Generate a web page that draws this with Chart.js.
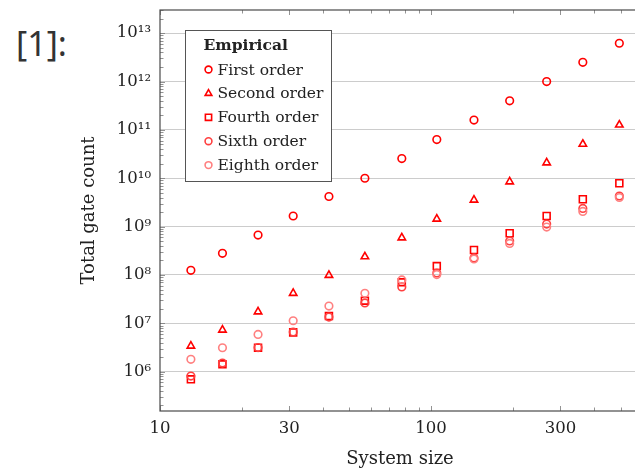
<!DOCTYPE html>
<html>
<head>
  <meta charset="utf-8">
  <title>Total gate count vs system size</title>
  <style>
    html, body {
      margin: 0;
      padding: 0;
      background: #fff;
      overflow: hidden;
    }
    .prompt {
      position: absolute;
      left: 16px;
      top: 20px;
      font-family: "Noto Sans", sans-serif;
      font-size: 34px;
      color: #333;
    }
    .chart-box {
      position: absolute;
      left: 0;
      top: 0;
      width: 660px;
      height: 470px;
    }
  </style>
  <script src="https://cdn.jsdelivr.net/npm/chart.js"></script>
</head>
<body>
  <div class="prompt">[1]:</div>
  <div class="chart-box"><canvas id="chartCanvas" width="660" height="470"></canvas></div>

  <script>
    // Data (log-log).
    var systemSize  = [13, 17, 23, 31, 42, 57, 78, 105, 144, 195, 267, 363, 495];
    var firstOrder  = [1.25e8, 2.8e8, 6.7e8, 1.66e9, 4.2e9, 1.0e10, 2.55e10, 6.3e10, 1.6e11, 4.0e11, 1.0e12, 2.5e12, 6.2e12];
    var secondOrder = [3.4e6, 7.3e6, 1.74e7, 4.2e7, 9.9e7, 2.4e8, 5.9e8, 1.44e9, 3.56e9, 8.5e9, 2.1e10, 5.1e10, 1.27e11];
    var fourthOrder = [6.95e5, 1.42e6, 3.13e6, 6.5e6, 1.42e7, 2.94e7, 7.06e7, 1.53e8, 3.29e8, 7.3e8, 1.66e9, 3.68e9, 7.9e9];
    var sixthOrder  = [8.1e5, 1.51e6, 3.16e6, 6.6e6, 1.35e7, 2.64e7, 5.65e7, 1.1e8, 2.25e8, 5.05e8, 1.13e9, 2.38e9, 4.3e9];
    var eighthOrder = [1.8e6, 3.13e6, 5.9e6, 1.13e7, 2.28e7, 4.18e7, 7.9e7, 1.02e8, 2.14e8, 4.5e8, 9.8e8, 2.06e9, 4.0e9];

    var seriesNames = ['First order', 'Second order', 'Fourth order', 'Sixth order', 'Eighth order'];
    var legendTitle = 'Empirical';

    var xTickValues = [10, 30, 100, 300];
    var xTickLabels = ['10', '30', '100', '300'];
    var yTickValues = [1e6, 1e7, 1e8, 1e9, 1e10, 1e11, 1e12, 1e13];
    var yTickLabels = ['10\u2076', '10\u2077', '10\u2078', '10\u2079', '10\u00b9\u2070', '10\u00b9\u00b9', '10\u00b9\u00b2', '10\u00b9\u00b3'];

    function toPoints(ys) {
      return systemSize.map(function(x, i) { return { x: x, y: ys[i] }; });
    }

    var serif = '"DejaVu Serif", serif';
    Chart.defaults.font.family = serif;
    Chart.defaults.color = '#222';

    function series(i, values, style, color, radius, order) {
      return {
        label: seriesNames[i],
        data: toPoints(values),
        pointStyle: style,
        pointRadius: radius,
        pointBorderWidth: 1.6,
        borderColor: color,
        backgroundColor: 'rgba(0,0,0,0)',
        showLine: false,
        order: order
      };
    }

    // Draws the frame and the inward tick marks (pgfplots style).
    var framePlugin = {
      id: 'framePlugin',
      beforeDatasetsDraw: function(chart) {
        var c = chart.ctx, a = chart.chartArea;
        var xs = chart.scales.x, ys = chart.scales.y;
        c.save();
        c.strokeStyle = '#777';
        c.lineWidth = 0.8;
        c.beginPath();
        // x ticks, top and bottom
        for (var d = 10; d <= 1000; d *= 10) {
          for (var m = 1; m <= 9; m++) {
            var v = d * m;
            if (v < xs.min || v > xs.max) continue;
            var px = Math.round(xs.getPixelForValue(v)) + 0.5;
            var len = (xTickValues.indexOf(v) >= 0) ? 5 : 3.5;
            c.moveTo(px, a.bottom); c.lineTo(px, a.bottom - len);
            c.moveTo(px, a.top); c.lineTo(px, a.top + len);
          }
        }
        // y ticks, left side
        for (var e = 5; e <= 13; e++) {
          for (var k = 1; k <= 9; k++) {
            var yv = k * Math.pow(10, e);
            if (yv < ys.min || yv > ys.max) continue;
            var py = Math.round(ys.getPixelForValue(yv)) + 0.5;
            var l = (k === 1) ? 5 : 3.5;
            c.moveTo(a.left, py); c.lineTo(a.left + l, py);
          }
        }
        c.stroke();
        c.strokeStyle = '#4a4a4a';
        c.lineWidth = 1.2;
        c.strokeRect(a.left, a.top, a.right - a.left, a.bottom - a.top);
        c.restore();
      }
    };

    // Legend box inside the plot, top-left.
    var legendPlugin = {
      id: 'legendPlugin',
      afterDatasetsDraw: function(chart) {
        var c = chart.ctx, a = chart.chartArea;
        var bx = a.left + 25.5, by = a.top + 20.5, bw = 146, bh = 151;
        c.save();
        c.fillStyle = '#fff';
        c.fillRect(bx, by, bw, bh);
        c.strokeStyle = '#555';
        c.lineWidth = 1;
        c.strokeRect(bx, by, bw, bh);
        c.fillStyle = '#222';
        c.textBaseline = 'middle';
        c.textAlign = 'left';
        c.font = 'bold 15.5px ' + serif;
        c.fillText(legendTitle, bx + 18, by + 15);
        c.font = '15.5px ' + serif;
        chart.data.datasets.forEach(function(ds, i) {
          var cy = by + 39 + i * 23.9;
          c.strokeStyle = ds.borderColor;
          c.fillStyle = 'rgba(0,0,0,0)';
          c.lineWidth = ds.pointBorderWidth;
          Chart.helpers.drawPoint(c, {
            pointStyle: ds.pointStyle,
            radius: ds.pointRadius * 0.9,
            borderWidth: ds.pointBorderWidth,
            rotation: 0
          }, bx + 23, cy);
          c.fillStyle = '#222';
          c.fillText(ds.label, bx + 32, cy + 1);
        });
        c.restore();
      }
    };

    var ctx = document.getElementById('chartCanvas').getContext('2d');
    var gateChart = new Chart(ctx, {
      type: 'scatter',
      data: {
        datasets: [
          series(0, firstOrder, 'circle', 'rgb(255,0,0)', 3.8, 5),
          series(1, secondOrder, 'triangle', 'rgb(255,0,0)', 4.3, 4),
          series(2, fourthOrder, 'rect', 'rgb(255,0,0)', 4.9, 3),
          series(3, sixthOrder, 'circle', 'rgb(255,64,64)', 3.8, 2),
          series(4, eighthOrder, 'circle', 'rgb(255,128,128)', 3.8, 1)
        ]
      },
      options: {
        responsive: false,
        animation: false,
        layout: { padding: { left: 70, top: 10, right: 20, bottom: 0 } },
        plugins: {
          legend: { display: false },
          tooltip: { enabled: false }
        },
        scales: {
          x: {
            type: 'logarithmic',
            min: 10,
            max: 590,
            afterBuildTicks: function(s) { s.ticks = xTickValues.map(function(v) { return { value: v }; }); },
            afterFit: function(s) { s.height = 59; s.paddingLeft = 0; s.paddingRight = 0; },
            grid: { display: false, drawTicks: false },
            border: { display: false },
            ticks: {
              padding: 8,
              autoSkip: false,
              maxRotation: 0,
              color: '#222',
              font: { size: 16.5 },
              callback: function(v, i) { return xTickLabels[i]; }
            },
            title: { display: true, text: 'System size', color: '#222', font: { size: 18 }, padding: { top: 0, bottom: 0 } }
          },
          y: {
            type: 'logarithmic',
            min: Math.pow(10, 5.187),
            max: Math.pow(10, 13.48),
            afterBuildTicks: function(s) { s.ticks = yTickValues.map(function(v) { return { value: v }; }); },
            afterFit: function(s) { s.width = 90; s.paddingTop = 0; s.paddingBottom = 0; },
            grid: { color: 'rgba(0,0,0,0.2)', lineWidth: 1, drawTicks: false },
            border: { display: false },
            ticks: {
              padding: 9,
              autoSkip: false,
              color: '#222',
              font: { size: 16.5 },
              callback: function(v, i) { return yTickLabels[i]; }
            },
            title: { display: true, text: 'Total gate count', color: '#222', font: { size: 18 }, padding: { top: 9, bottom: 0 } }
          }
        }
      },
      plugins: [framePlugin, legendPlugin]
    });
  </script>
</body>
</html>
